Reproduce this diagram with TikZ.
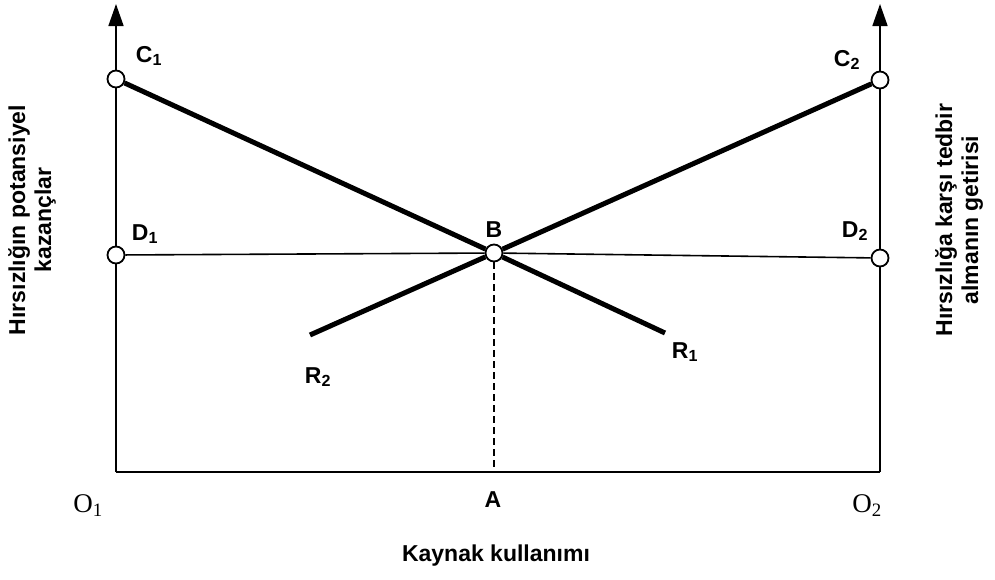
\documentclass[tikz,border=0pt]{standalone}
\usepackage{fontspec}
\setmainfont{Liberation Sans}
\newfontfamily\serifO{Liberation Serif}
\usetikzlibrary{arrows.meta}
\begin{document}
\begin{tikzpicture}
  [x=1pt,y=-1pt,
   every node/.style={font=\bfseries\fontsize{23}{26}\selectfont},
   baslik/.style={font=\bfseries\fontsize{23}{26}\selectfont},
   okur/.style={font=\serifO\fontsize{27}{29}\selectfont},
   nokta/.style={circle,draw,fill=white,line width=1.8pt,minimum size=17pt,inner sep=0pt},
   eksen/.style={line width=1.6pt},
   egri/.style={line width=5pt},
   kesik/.style={line width=1.6pt,dash pattern=on 7pt off 4pt},
   ok/.style={eksen,-{Triangle[width=15pt,length=22pt]}}]
  \useasboundingbox (0,0) rectangle (995,579);
  % Eksenler ve taban
  \coordinate (o1) at (116,472);
  \coordinate (o2) at (880,472);
  \coordinate (a)  at (494,472);
  \coordinate (t1) at (116,4);
  \coordinate (t2) at (880,4);
  \coordinate (r1) at (665,333);
  \coordinate (r2) at (310,335);

  % Noktalar
  \node[nokta] (c1) at (116,79)  {};
  \node[nokta] (c2) at (880,80)  {};
  \node[nokta] (d1) at (116,255) {};
  \node[nokta] (d2) at (880,258) {};
  \node[nokta] (b)  at (494,253) {};

  \draw[eksen] (o1) -- (o2);
  \draw[eksen] (o1) -- (d1) -- (c1);
  \draw[eksen] (o2) -- (d2) -- (c2);
  \draw[ok] (c1) -- (t1);
  \draw[ok] (c2) -- (t2);
  \draw[eksen] (d1) -- (b) -- (d2);
  \draw[kesik] (b) -- (a);

  % Kalın doğrular
  \foreach \from/\to in {c1/b, b/r1, r2/b, b/c2}
    \draw[egri] (\from) -- (\to);

  % Etiketler
  \node at (149,56)  {C\textsubscript{1}};
  \node at (847,60)  {C\textsubscript{2}};
  \node at (145,234) {D\textsubscript{1}};
  \node at (855,231) {D\textsubscript{2}};
  \node at (494,230) {B};
  \node at (685,352) {R\textsubscript{1}};
  \node at (318,377) {R\textsubscript{2}};
  \node at (493,500) {A};
  \node[okur] at (88,506)  {O\textsubscript{1}};
  \node[okur] at (867,506) {O\textsubscript{2}};
  \node[baslik] at (496,556) {Kaynak kullanımı};

  \node[baslik,rotate=90,align=center] at (32,220) {Hırsızlığın potansiyel\\kazançlar};
  \node[baslik,rotate=90,align=center] at (959,220) {Hırsızlığa karşı tedbir\\almanın getirisi};
\end{tikzpicture}
\end{document}
